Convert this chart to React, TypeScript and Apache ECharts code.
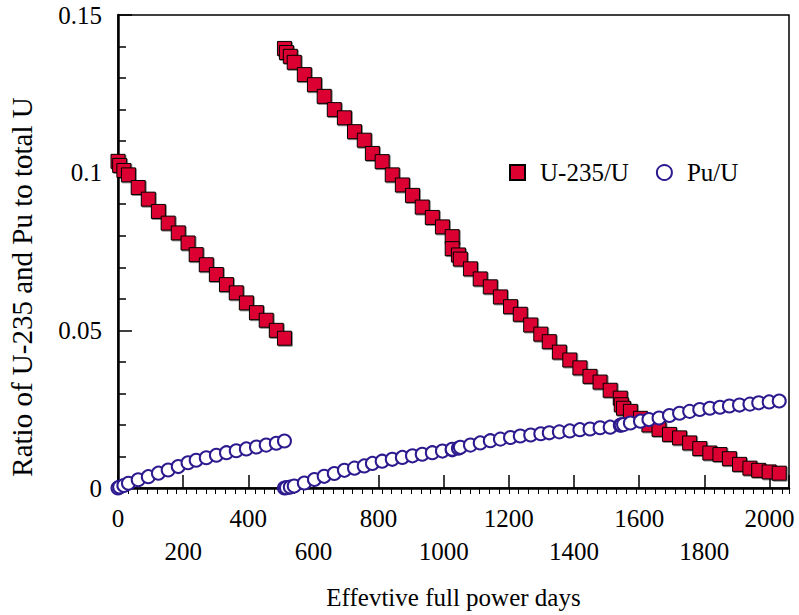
import React, { useEffect, useRef } from 'react';
import * as echarts from 'echarts';

// Effective full power days – first cycle
const cycle1Days = [0, 5, 18, 32, 62, 93, 124, 154, 185, 215, 240, 271, 302, 333, 363, 394, 425, 455, 486, 511];
const cycle1U235 = [0.1036, 0.1023, 0.1007, 0.0993, 0.0953, 0.0916, 0.0877, 0.084, 0.0809, 0.0777, 0.074, 0.0708, 0.0677, 0.0645, 0.0619, 0.0587, 0.0556, 0.0532, 0.05, 0.0475];
const cycle1Pu = [0, 0.0003, 0.0008, 0.0015, 0.0026, 0.0036, 0.0047, 0.0057, 0.0068, 0.008, 0.0088, 0.0096, 0.0104, 0.0112, 0.0118, 0.0124, 0.013, 0.0136, 0.0142, 0.0149];

// Effective full power days – second run
const cycle2Days = [
  511, 517, 529, 541, 572, 603, 633, 664, 695, 726,
  756, 781, 811, 842, 873, 904, 934, 965, 996, 1026,
  1026, 1045, 1051, 1082, 1112, 1143, 1174, 1205, 1235, 1267,
  1298, 1324, 1355, 1387, 1418, 1449, 1480, 1511, 1542, 1545,
  1552, 1573, 1604, 1630, 1661, 1693, 1724, 1755, 1786, 1817,
  1848, 1877, 1908, 1940, 1967, 1999, 2030, 2061,
];
const cycle2U235 = [
  0.1394, 0.1381, 0.1369, 0.135, 0.1311, 0.1279, 0.1242, 0.12, 0.1174, 0.113,
  0.1103, 0.1061, 0.1035, 0.0993, 0.0961, 0.0928, 0.0891, 0.0858, 0.0828, 0.0797,
  0.0759, 0.0739, 0.0726, 0.0695, 0.0663, 0.0638, 0.0606, 0.0575, 0.0551, 0.0517,
  0.0488, 0.0464, 0.0431, 0.0406, 0.0381, 0.0354, 0.0336, 0.031, 0.0285, 0.0264,
  0.0253, 0.0243, 0.0221, 0.02, 0.0186, 0.017, 0.0159, 0.0143, 0.0125, 0.0111,
  0.0106, 0.0093, 0.0075, 0.0063, 0.0056, 0.0051, 0.0047, 0.0042,
];
const cycle2Pu = [
  0, 0.0001, 0.0003, 0.0006, 0.0016, 0.0027, 0.0037, 0.0046, 0.0056, 0.0063,
  0.007, 0.0078, 0.0085, 0.0091, 0.0097, 0.0102, 0.0107, 0.0112, 0.0117, 0.0121,
  0.0123, 0.0126, 0.0129, 0.0136, 0.0143, 0.015, 0.0155, 0.016, 0.0165, 0.0168,
  0.0172, 0.0175, 0.0178, 0.0181, 0.0185, 0.0187, 0.0191, 0.0193, 0.0199, 0.02,
  0.0201, 0.0206, 0.0212, 0.0217, 0.0222, 0.023, 0.0237, 0.0243, 0.0249, 0.0253,
  0.0256, 0.026, 0.0263, 0.0266, 0.027, 0.0273, 0.0276, 0.0278,
];

const seriesNames = ['U-235/U', 'Pu/U'];
const xTitle = 'Effevtive full power days';
const yTitle = 'Ratio of U-235 and Pu to total U';

const FONT = 'Liberation Serif';
const FS = 25;

const pair = (days: number[], vals: number[]) => days.map((d, i) => [d, vals[i]]);

export default function App() {
  const ref = useRef<HTMLDivElement>(null);

  useEffect(() => {
    if (!ref.current) return;
    const chart = echarts.init(ref.current, undefined, { renderer: 'svg' });
    const u235Data = [...pair(cycle1Days, cycle1U235), ...pair(cycle2Days, cycle2U235)];
    const puData = [...pair(cycle1Days, cycle1Pu), ...pair(cycle2Days, cycle2Pu)];

    chart.setOption({
      animation: false,
      backgroundColor: '#ffffff',
      textStyle: { fontFamily: FONT, color: '#000' },
      grid: {
        left: 118,
        right: 10,
        top: 15,
        bottom: 125,
        show: true,
        borderColor: '#000',
        borderWidth: 1.5,
        backgroundColor: 'transparent',
      },
      legend: {
        left: 504,
        top: 155,
        itemWidth: 15,
        itemHeight: 15,
        itemGap: 27,
        data: seriesNames,
        textStyle: { fontFamily: FONT, fontSize: FS, color: '#000', padding: [0, 0, 0, 10] },
      },
      graphic: [
        {
          type: 'text',
          x: 22,
          y: 287,
          rotation: Math.PI / 2,
          style: {
            text: yTitle,
            fontFamily: FONT,
            fontSize: 29,
            fill: '#000',
            textAlign: 'center',
            textVerticalAlign: 'middle',
          },
        },
      ],
      xAxis: [
        {
          type: 'value',
          min: 0,
          max: 2060,
          interval: 200,
          axisLine: { lineStyle: { color: '#000', width: 2.5 } },
          axisTick: { inside: true, length: 13, lineStyle: { color: '#000', width: 1.5 } },
          splitLine: { show: false },
          axisLabel: {
            margin: 14,
            fontFamily: FONT,
            fontSize: FS,
            color: '#000',
            lineHeight: 33,
            formatter: (v: number) => {
              if (v % 200 !== 0) return '';
              return (v / 200) % 2 === 1 ? '\n' + v : String(v);
            },
          },
          name: xTitle,
          nameLocation: 'middle',
          nameGap: 97,
          nameMoveOverlap: false,
          nameTextStyle: { fontFamily: FONT, fontSize: FS, color: '#000' },
        },
        {
          type: 'value',
          position: 'bottom',
          min: 0,
          max: 2060,
          interval: 30,
          axisLine: { show: false },
          axisTick: { show: true, inside: false, length: 6, lineStyle: { color: '#000', width: 1 } },
          axisLabel: { show: false },
          splitLine: { show: false },
        },
      ],
      yAxis: {
        type: 'value',
        min: 0,
        max: 0.15,
        interval: 0.05,
        axisLine: { lineStyle: { color: '#000', width: 2.5 } },
        axisTick: { inside: true, length: 14, lineStyle: { color: '#000', width: 1.5 } },
        minorTick: { show: true, splitNumber: 5, length: 8, lineStyle: { color: '#000', width: 1.5 } },
        splitLine: { show: false },
        minorSplitLine: { show: false },
        axisLabel: {
          margin: 16,
          fontFamily: FONT,
          fontSize: FS,
          color: '#000',
          formatter: (v: number) => String(+v.toFixed(2)),
        },
      },
      series: [
        {
          name: seriesNames[0],
          type: 'scatter',
          xAxisIndex: 0,
          symbol: 'rect',
          symbolSize: 14,
          data: u235Data,
          itemStyle: {
            color: '#DC0031',
            borderColor: '#000',
            borderWidth: 1,
            opacity: 1,
            shadowColor: 'rgba(0,0,0,0.45)',
            shadowOffsetX: 1,
            shadowOffsetY: 1,
            shadowBlur: 0,
          },
          z: 3,
        },
        {
          name: seriesNames[1],
          type: 'scatter',
          xAxisIndex: 0,
          symbol: 'emptyCircle',
          symbolSize: 13,
          data: puData,
          itemStyle: {
            color: '#2D1A8E',
            borderColor: '#2D1A8E',
            borderWidth: 1.2,
            opacity: 1,
          },
          z: 4,
        },
      ],
    });
    return () => chart.dispose();
  }, []);

  return (
    <div
      ref={ref}
      style={{ position: 'absolute', left: 0, top: 0, width: 799, height: 615, background: '#fff' }}
    />
  );
}
